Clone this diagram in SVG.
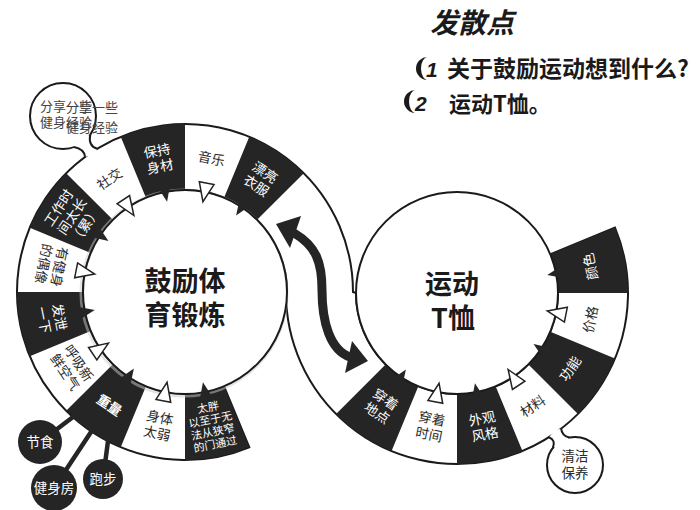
<svg xmlns="http://www.w3.org/2000/svg" width="700" height="510" viewBox="0 0 700 510">
<defs>
<style>
text{font-family:'Noto Sans CJK SC','Noto Sans',sans-serif;}
.seg{fill:#252525;}
.tw{fill:#fff;stroke:#222;stroke-width:1.5;}
.tb{fill:#252525;}
.lb{font-size:13.5px;fill:#2a2a2a;text-anchor:middle;}
.lw{font-size:13.5px;fill:#fff;text-anchor:middle;}
.ln{fill:none;stroke:#1a1a1a;stroke-width:2;}
.disc{fill:#fff;stroke:#1a1a1a;stroke-width:2;}
.stem{stroke:#252525;stroke-width:4.5;stroke-linecap:round;}
.ct{font-size:13.5px;fill:#fff;text-anchor:middle;}
.big{font-size:27px;font-weight:bold;fill:#1a1a1a;text-anchor:middle;}
.hd{font-weight:bold;fill:#1a1a1a;}
.bt{font-size:13px;fill:#444;}
</style>
<polygon id="tri" points="92,0 111,-7.5 111,7.5"/>
</defs>
<rect width="700" height="510" fill="#fff"/>

<g id="band">
<path class="ln" d="M249.29,447.21 A168,168 0 1 1 353,292 L356,293 A101,101 0 1 0 550.31,254.35 L614.98,227.56 A171,171 0 1 1 286,293 L287,292 A102,102 0 1 0 224.03,386.24 Z" style="fill:#fff"/>
</g>

<g id="left-segments">
<path class="seg" d="M249.29,447.21 A168,168 0 0 1 185,460 L185,394 A102,102 0 0 0 224.03,386.24 Z"/>
<path class="seg" d="M120.71,447.21 A168,168 0 0 1 66.21,410.79 L112.87,364.13 A102,102 0 0 0 145.97,386.24 Z"/>
<path class="seg" d="M29.79,356.29 A168,168 0 0 1 17,292 L83,292 A102,102 0 0 0 90.76,331.03 Z"/>
<path class="seg" d="M29.79,227.71 A168,168 0 0 1 66.21,173.21 L112.87,219.87 A102,102 0 0 0 90.76,252.97 Z"/>
<path class="seg" d="M120.71,136.79 A168,168 0 0 1 185,124 L185,190 A102,102 0 0 0 145.97,197.76 Z"/>
<path class="seg" d="M249.29,136.79 A168,168 0 0 1 303.79,173.21 L257.13,219.87 A102,102 0 0 0 224.03,197.76 Z"/>
</g>
<g id="right-segments">
<path class="seg" d="M614.98,227.56 A171,171 0 0 1 628,293 L558,293 A101,101 0 0 0 550.31,254.35 Z"/>
<path class="seg" d="M614.98,358.44 A171,171 0 0 1 577.92,413.92 L528.42,364.42 A101,101 0 0 0 550.31,331.65 Z"/>
<path class="seg" d="M522.44,450.98 A171,171 0 0 1 457,464 L457,394 A101,101 0 0 0 495.65,386.31 Z"/>
<path class="seg" d="M391.56,450.98 A171,171 0 0 1 336.08,413.92 L385.58,364.42 A101,101 0 0 0 418.35,386.31 Z"/>
</g>

<g id="left-hub">
<circle cx="184" cy="293" r="103" fill="none" stroke="#ccc" stroke-width="3" opacity="0.5"/>
<circle class="disc" cx="185" cy="292" r="102"/>
<text class="big" x="185" y="291">鼓励体</text>
<text class="big" x="185" y="325">育锻炼</text>
</g>
<g id="right-hub">
<circle class="disc" cx="457" cy="293" r="101"/>
<text class="big" x="452" y="294">运动</text>
<text class="big" x="453" y="328">T恤</text>
</g>

<g id="connectors">
<g transform="translate(185,292)">
<use href="#tri" class="tb" transform="rotate(78.75)"/>
<use href="#tri" class="tw" transform="rotate(101.25)"/>
<use href="#tri" class="tb" transform="rotate(123.75)"/>
<use href="#tri" class="tw" transform="rotate(146.25)"/>
<use href="#tri" class="tb" transform="rotate(168.75)"/>
<use href="#tri" class="tw" transform="rotate(191.25)"/>
<use href="#tri" class="tb" transform="rotate(213.75)"/>
<use href="#tri" class="tw" transform="rotate(236.25)"/>
<use href="#tri" class="tb" transform="rotate(258.75)"/>
<use href="#tri" class="tw" transform="rotate(281.25)"/>
<use href="#tri" class="tb" transform="rotate(303.75)"/>
</g>
<g transform="translate(457,293)">
<use href="#tri" class="tb" transform="rotate(-11.25)"/>
<use href="#tri" class="tw" transform="rotate(11.25)"/>
<use href="#tri" class="tb" transform="rotate(33.75)"/>
<use href="#tri" class="tw" transform="rotate(56.25)"/>
<use href="#tri" class="tb" transform="rotate(78.75)"/>
<use href="#tri" class="tw" transform="rotate(101.25)"/>
<use href="#tri" class="tb" transform="rotate(123.75)"/>
</g>
<path d="M294,233 C316,246 322,262 322,290 C322,322 330,350 350,357" fill="none" stroke="#252525" stroke-width="9"/>
<polygon points="276,224 301,216 290,248" fill="#252525"/>
<polygon points="368,361 352,341 345,373" fill="#252525"/>
<line class="stem" x1="40" y1="442" x2="73" y2="417"/>
<line class="stem" x1="54" y1="488" x2="91" y2="432"/>
<line class="stem" x1="103" y1="479" x2="108" y2="441"/>
</g>

<g id="left-labels">
<g transform="translate(211.5,425.4) rotate(-11.25)">
<text class="lw" style="font-size:11px" y="-14.5">太胖</text>
<text class="lw" style="font-size:11px" y="-2">以至于无</text>
<text class="lw" style="font-size:11px" y="10.5">法从狭窄</text>
<text class="lw" style="font-size:11px" y="23">的门通过</text>
</g>
<g transform="translate(158.5,425.4) rotate(11.25)"><text class="lb" y="-3">身体</text><text class="lb" y="13">太弱</text></g>
<g transform="translate(109.4,405.1) rotate(33.75)"><text class="lw" y="5" font-weight="bold">重量</text></g>
<g transform="translate(71.9,367.6) rotate(56.25)"><text class="lb" y="-3">呼吸新</text><text class="lb" y="13">鲜空气</text></g>
<g transform="translate(51.6,318.5) rotate(78.75)"><text class="lw" y="-3">发泄</text><text class="lw" y="13">一下</text></g>
<g transform="translate(51.6,265.5) rotate(101.25)"><text class="lb" y="-3">有健身</text><text class="lb" y="13">的偶像</text></g>
<g transform="translate(71.9,216.4) rotate(-56.25)"><text class="lw" y="-11">工作时</text><text class="lw" y="5">间太长</text><text class="lw" y="21">（累）</text></g>
<g transform="translate(109.4,178.9) rotate(-33.75)"><text class="lb" y="5">社交</text></g>
<g transform="translate(158.5,158.6) rotate(-11.25)"><text class="lw" y="-3">保持</text><text class="lw" y="13">身材</text></g>
<g transform="translate(211.5,158.6) rotate(11.25)"><text class="lb" y="5">音乐</text></g>
<g transform="translate(260.6,178.9) rotate(33.75)"><text class="lw" y="-3">漂亮</text><text class="lw" y="13">衣服</text></g>
</g>

<g id="right-labels">
<g transform="translate(590.4,266.5) rotate(-101.25)"><text class="lw" y="5">颜色</text></g>
<g transform="translate(590.4,319.5) rotate(-78.75)"><text class="lb" y="5">价格</text></g>
<g transform="translate(570.1,368.6) rotate(-56.25)"><text class="lw" y="5">功能</text></g>
<g transform="translate(532.6,406.1) rotate(-33.75)"><text class="lb" y="5">材料</text></g>
<g transform="translate(483.5,426.4) rotate(-11.25)"><text class="lw" y="-3">外观</text><text class="lw" y="13">风格</text></g>
<g transform="translate(430.5,426.4) rotate(11.25)"><text class="lb" y="-3">穿着</text><text class="lb" y="13">时间</text></g>
<g transform="translate(381.4,406.1) rotate(33.75)"><text class="lw" y="-3">穿着</text><text class="lw" y="13">地点</text></g>
</g>

<g id="bubble-share">
<circle cx="63" cy="116" r="33" class="disc"/>
<path d="M90.2,134.7 Q88,146 97.2,148.8 L96,154 L85.1,156.9 Q84,149 74,147.1 L80,138 Z" fill="#fff"/>
<path class="ln" d="M90.2,134.7 Q88,146 97.2,148.8 M74,147.1 Q84,149 85.1,156.9"/>
<text class="bt" x="40" y="111">分享一些</text>
<text class="bt" x="40" y="127">健身经验</text>
<text class="bt" x="66" y="112">分享一些</text>
<text class="bt" x="66" y="132">健身经验</text>
</g>

<g id="bubble-clean">
<circle cx="575" cy="465" r="28" class="disc"/>
<path d="M561.1,428.7 Q562,436 569.2,437.6 L565,445 L552.9,447.8 Q556,440 548.9,437.2 L555,430 Z" fill="#fff"/>
<path class="ln" d="M561.1,428.7 Q562,436 569.2,437.6 M548.9,437.2 Q556,440 552.9,447.8"/>
<text class="lb" x="575" y="461">清洁</text>
<text class="lb" x="575" y="478">保养</text>
</g>

<g id="diet"><circle cx="40" cy="442" r="22" fill="#252525"/><text class="ct" x="40" y="447">节食</text></g>
<g id="gym"><circle cx="54" cy="488" r="23" fill="#252525"/><text class="ct" x="54" y="493">健身房</text></g>
<g id="run"><circle cx="103" cy="479" r="20" fill="#252525"/><text class="ct" x="103" y="484">跑步</text></g>

<g id="header">
<text class="hd" x="430" y="33" font-size="28" font-style="italic">发散点</text>
<path d="M428,57 A12,11.5 0 0 0 428,80 A7,11.5 0 0 1 428,57 Z" fill="#1a1a1a"/>
<text x="426" y="77" font-size="21" font-weight="bold" font-style="italic" fill="#1a1a1a" style="font-family:'Liberation Sans',sans-serif">1</text>
<text class="hd" x="447" y="77" font-size="23">关于鼓励运动想到什么?</text>
<path d="M416,90 A12,11.5 0 0 0 416,113 A7,11.5 0 0 1 416,90 Z" fill="#1a1a1a"/>
<text x="415" y="111" font-size="21" font-weight="bold" font-style="italic" fill="#1a1a1a" style="font-family:'Liberation Sans',sans-serif">2</text>
<text class="hd" x="449" y="112" font-size="22">运动T恤。</text>
</g>
</svg>
